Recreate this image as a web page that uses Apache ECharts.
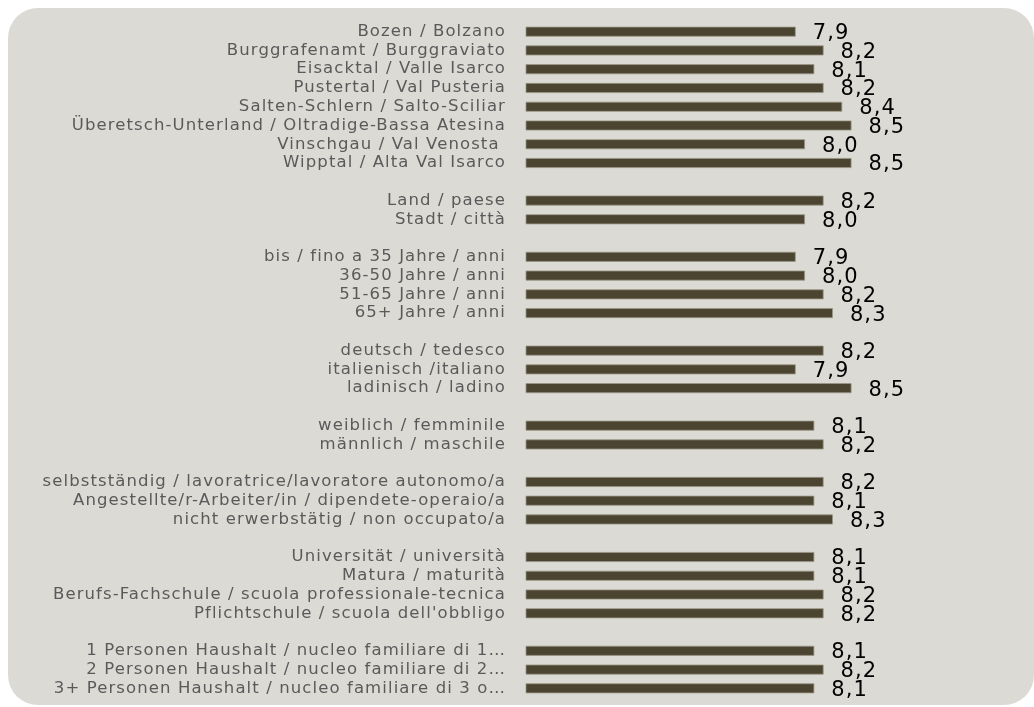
<!DOCTYPE html>
<html>
<head>
<meta charset="utf-8">
<script src="https://cdn.jsdelivr.net/npm/echarts@6/dist/echarts.min.js"></script>
<style>
html,body{margin:0;padding:0;background:#ffffff;}
#chart{width:1034px;height:707px;}
</style>
</head>
<body>
<div id="chart"></div>
<script>
// Groups of categories (top to bottom) and their values
const districtLabels = ["Bozen / Bolzano","Burggrafenamt / Burggraviato","Eisacktal / Valle Isarco","Pustertal / Val Pusteria","Salten-Schlern / Salto-Sciliar","Überetsch-Unterland / Oltradige-Bassa Atesina","Vinschgau / Val Venosta ","Wipptal / Alta Val Isarco"];
const districtValues = [7.9, 8.2, 8.1, 8.2, 8.4, 8.5, 8.0, 8.5];

const areaLabels = ["Land / paese","Stadt / città"];
const areaValues = [8.2, 8.0];

const ageLabels = ["bis / fino a 35 Jahre / anni","36-50 Jahre / anni","51-65 Jahre / anni","65+ Jahre / anni"];
const ageValues = [7.9, 8.0, 8.2, 8.3];

const languageLabels = ["deutsch / tedesco","italienisch /italiano","ladinisch / ladino"];
const languageValues = [8.2, 7.9, 8.5];

const genderLabels = ["weiblich / femminile","männlich / maschile"];
const genderValues = [8.1, 8.2];

const jobLabels = ["selbstständig / lavoratrice/lavoratore autonomo/a","Angestellte/r-Arbeiter/in / dipendete-operaio/a","nicht erwerbstätig / non occupato/a"];
const jobValues = [8.2, 8.1, 8.3];

const educationLabels = ["Universität / università","Matura / maturità","Berufs-Fachschule / scuola professionale-tecnica","Pflichtschule / scuola dell'obbligo"];
const educationValues = [8.1, 8.1, 8.2, 8.2];

const householdLabels = ["1 Personen Haushalt / nucleo familiare di 1…","2 Personen Haushalt / nucleo familiare di 2…","3+ Personen Haushalt / nucleo familiare di 3 o…"];
const householdValues = [8.1, 8.2, 8.1];

const groups = [
  [districtLabels, districtValues],
  [areaLabels, areaValues],
  [ageLabels, ageValues],
  [languageLabels, languageValues],
  [genderLabels, genderValues],
  [jobLabels, jobValues],
  [educationLabels, educationValues],
  [householdLabels, householdValues]
];

const categories = [];
const values = [];
groups.forEach((g, gi) => {
  if (gi > 0) { categories.push('gap' + gi); values.push(null); }
  g[0].forEach((l, i) => { categories.push(l); values.push(g[1][i]); });
});

const FONT = '"DejaVu Sans", Verdana, sans-serif';

const chart = echarts.init(document.getElementById('chart'), null, {renderer: 'canvas'});

chart.setOption({
  animation: false,
  backgroundColor: '#ffffff',
  graphic: [{
    type: 'rect',
    z: -10,
    silent: true,
    shape: {x: 8, y: 8, width: 1026, height: 697, r: 30},
    style: {fill: '#dbdad5'}
  }],
  grid: {left: 526, right: 43, top: 22.3, bottom: 9.3},
  xAxis: {
    type: 'value', min: 5, max: 10, show: false
  },
  yAxis: {
    type: 'category',
    inverse: true,
    data: categories,
    axisLine: {show: false},
    axisTick: {show: false},
    splitLine: {show: false},
    axisLabel: {
      interval: 0,
      margin: 20,
      fontFamily: FONT,
      fontSize: 16.5,
      color: '#5a5a5a',
      formatter: v => v.startsWith('gap') ? '' : v
    }
  },
  series: [{
    type: 'bar',
    data: values,
    barWidth: 10,
    itemStyle: {color: '#4a4430', borderColor: '#9a9585', borderWidth: 0.8},
    label: {
      show: true,
      position: 'right',
      distance: 17,
      offset: [0, 2],
      fontFamily: FONT,
      fontSize: 21,
      color: '#000000',
      formatter: p => p.value == null ? '' : p.value.toFixed(1).replace('.', ',')
    }
  }]
});

// widen the glyph spacing to match the reference's wide face, then repaint
try {
  chart.getDom().querySelectorAll('canvas').forEach(cv => {
    const ctx = cv.getContext('2d');
    if ('letterSpacing' in ctx) ctx.letterSpacing = '1.1px';
  });
  chart.getZr().painter.refresh(true);
} catch (e) {}
</script>
</body>
</html>
